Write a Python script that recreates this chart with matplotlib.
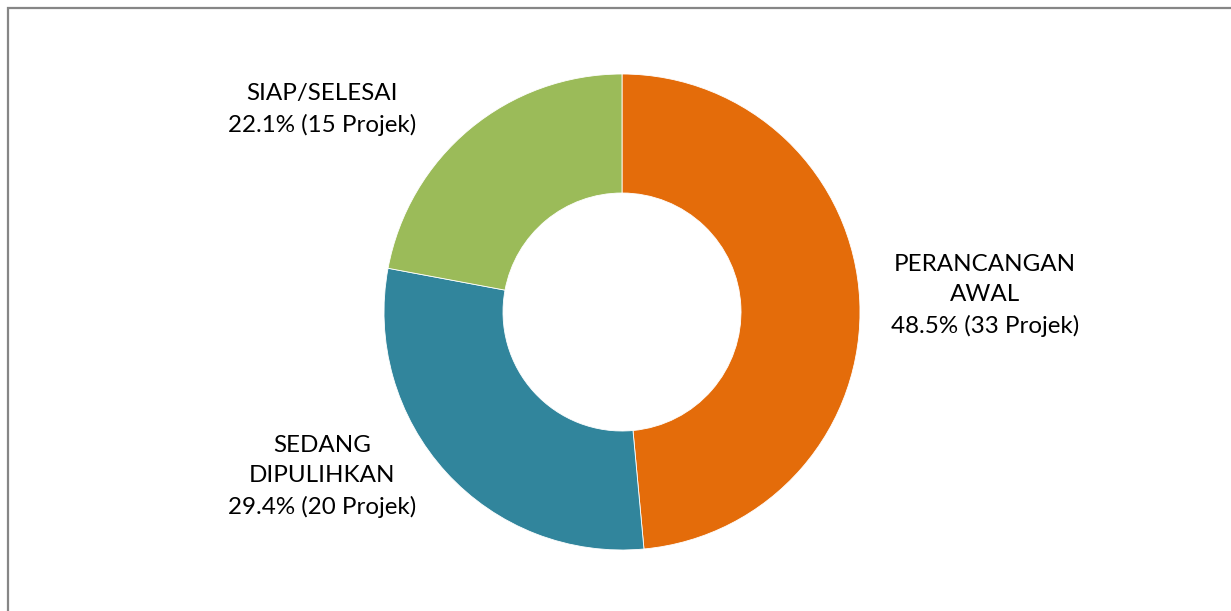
import matplotlib
matplotlib.use("Agg")
import matplotlib.pyplot as plt
from matplotlib.patches import Rectangle

categories = ["PERANCANGAN\nAWAL", "SEDANG\nDIPULIHKAN", "SIAP/SELESAI"]
counts = [33, 20, 15]
percents = [48.5, 29.4, 22.1]
colors = ["#E46C0A", "#31859C", "#9BBB59"]

label_pos = [(1.525, 0.07), (-1.26, -0.69), (-1.26, 0.85)]

W, H, DPI = 1231, 611, 100
fig = plt.figure(figsize=(W / DPI, H / DPI), dpi=DPI)
ax = fig.add_axes([0, 0, 1, 1])
cx, cy, R = 622, 312, 238
ax.set_aspect("equal")
ax.axis("off")

ax.pie(counts, colors=colors, startangle=90, counterclock=False, radius=1.0,
       wedgeprops=dict(width=0.5, edgecolor="white", linewidth=0.6))
ax.set_xlim(-cx / R, (W - cx) / R)
ax.set_ylim(-(H - cy) / R, cy / R)

for cat, n, p, (x, y) in zip(categories, counts, percents, label_pos):
    ax.text(x, y, f"{cat}\n{p:.1f}% ({n} Projek)", ha="center", va="center",
            fontsize=17.4, family=["Lato", "DejaVu Sans"], color="#000000",
            linespacing=1.55)

fig.patches.append(Rectangle((8 / W, -0.1), 1.2, (H - 8) / H + 0.1,
                             transform=fig.transFigure, fill=False,
                             edgecolor="#868686", linewidth=1.6))
fig.savefig("out.png", dpi=DPI)
